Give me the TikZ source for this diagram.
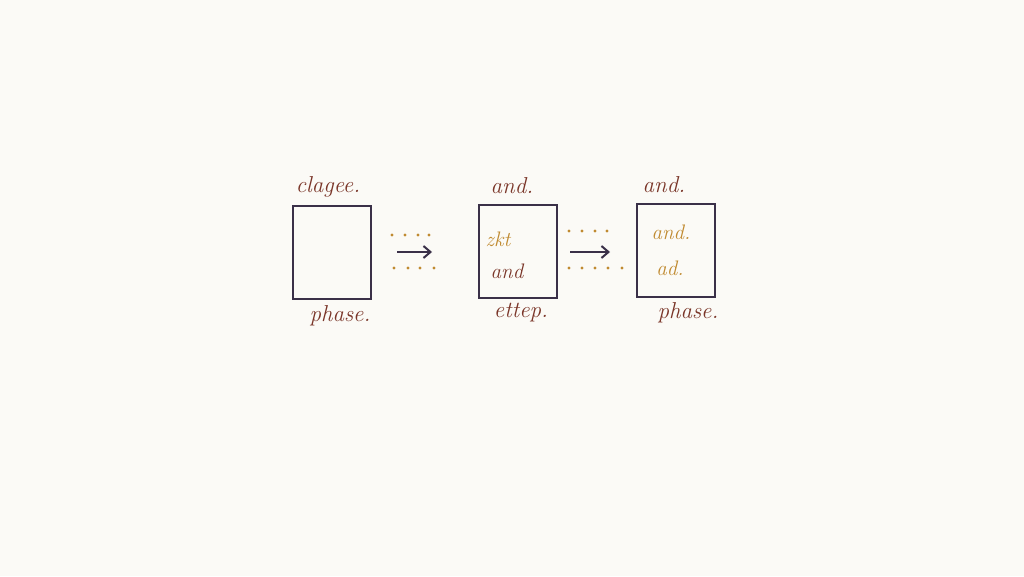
\documentclass[tikz,border=0pt]{standalone}
\usetikzlibrary{arrows.meta}
\definecolor{bg}{HTML}{FBFAF6}
\definecolor{ink}{HTML}{3A3048}
\definecolor{brownink}{HTML}{7A3528}
\definecolor{goldink}{HTML}{C08A30}
\tikzset{
  x=1pt, y=-1pt,
  phasebox/.style={draw=ink, line width=2pt, minimum width=78pt, minimum height=93pt, inner sep=0pt},
  lab/.style={text=brownink, font=\itshape\fontsize{23}{26}\selectfont, inner sep=0pt},
  goldlab/.style={text=goldink, font=\itshape\fontsize{21}{24}\selectfont, inner sep=0pt},
  flow/.style={draw=ink, line width=2pt, -{Straight Barb[length=7pt,width=12pt]}},
  dot/.style={fill=goldink, circle, inner sep=0pt, minimum size=3.2pt}
}
\begin{document}
\begin{tikzpicture}
\fill[bg] (0,0) rectangle (1024,576);
\useasboundingbox (0,0) rectangle (1024,576);
% boxes
\node[phasebox] (b1) at (332,252) {};
\node[phasebox] (b2) at (518,251) {};
\node[phasebox] (b3) at (676,250) {};
% labels
\node[lab] (t1) at (328,187) {clagee.};
\node[lab] (u1) at (340,316) {phase.};
\node[lab] (t2) at (512,186) {and.};
\node[lab] (u2) at (521,313) {ettep.};
\node[lab] (t3) at (664,185) {and.};
\node[lab] (u3) at (688,313) {phase.};
% inside labels
\node[goldlab] (i1) at (498,239) {zkt};
\node[lab, font=\itshape\fontsize{21}{24}\selectfont] (i2) at (507,271) {and};
\node[goldlab] (i3) at (671,232) {and.};
\node[goldlab] (i4) at (670,268) {ad.};
% connectors between boxes
\coordinate (a1s) at (397,252);
\coordinate (a1e) at (432,252);
\draw[flow] (a1s) -- (a1e);
\coordinate (a2s) at (570,252);
\coordinate (a2e) at (610,252);
\draw[flow] (a2s) -- (a2e);
% dotted rows
\foreach \x in {392,405,418,429} \node[dot] at (\x,235) {};
\foreach \x in {394,408,420,434} \node[dot] at (\x,268) {};
\foreach \x in {569,582,595,607} \node[dot] at (\x,231) {};
\foreach \x in {569,582,595,608,622} \node[dot] at (\x,268) {};
\end{tikzpicture}
\end{document}
